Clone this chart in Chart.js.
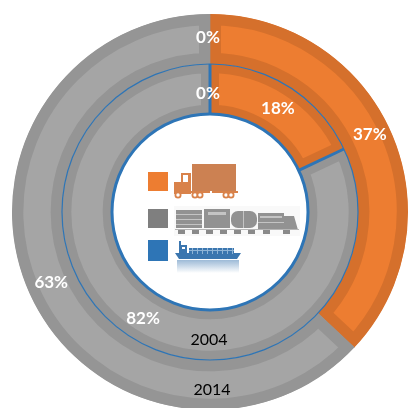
<!DOCTYPE html>
<html>
<head>
<meta charset="utf-8">
<style>
html, body { margin: 0; padding: 0; background: #fff; overflow: hidden; }
#wrap { width: 408px; height: 408px; position: relative; }
</style>
<script src="https://cdn.jsdelivr.net/npm/chart.js@4"></script>
</head>
<body>
<div id="wrap"><canvas id="chart-area" width="408" height="408"></canvas></div>
<script>
var categories = ['Truck', 'Rail', 'Water'];
var years = ['2014', '2004'];
var values2014 = [37, 63, 0];
var values2004 = [18, 82, 0];
var tickLabels2014 = ['37%', '63%', '0%'];
var tickLabels2004 = ['18%', '82%', '0%'];

var fills = ['#ED7D31', '#A5A5A5', '#5B9BD5'];
var edges = ['#D5702C', '#959595', '#5B9BD5'];
var swatches = ['#ED7D31', '#7F7F7F', '#2E75B6'];
var blue = '#2E75B6';
var labelFont = 'bold 17px Lato, "Open Sans", sans-serif';
var yearFont = '16px Lato, "Open Sans", sans-serif';

// hand adjustments to match where the labels sit in the picture [dx, dy]
var nudges = [
    [[1, -9], [0, 2], [-2, -1]],
    [[2, 0], [-1, 3], [-2, 5]]
];

function drawWheel(c, x, y, r, color) {
    c.beginPath();
    c.arc(x, y, r, 0, Math.PI * 2);
    c.fillStyle = color;
    c.fill();
    c.beginPath();
    c.arc(x, y, r / 2, 0, Math.PI * 2);
    c.fillStyle = '#fff';
    c.fill();
}

function drawTruck(c) {
    var body = '#D9824A';
    c.fillStyle = '#CC8152';
    c.fillRect(192, 164, 44, 27);
    c.fillStyle = body;
    c.fillRect(181, 173, 10, 21);
    c.fillRect(174, 182, 8, 12);
    c.fillRect(190, 191, 20, 2);
    c.fillRect(212, 191, 26, 2);
    c.fillStyle = '#fff';
    c.fillRect(183, 175, 5, 7);
    var wheels = [178, 195, 200, 226, 231];
    for (var i = 0; i < wheels.length; i++) {
        drawWheel(c, wheels[i], 195, 3.5, body);
    }
}

function drawTrain(c) {
    var i;
    c.fillStyle = '#F9F9F9';
    c.fillRect(174, 206, 126, 30);
    c.fillStyle = '#929292';
    c.fillRect(176, 210, 26, 18);
    c.fillRect(204, 209, 26, 19);
    c.beginPath();
    c.roundRect(231, 211, 26, 17, 7);
    c.fill();
    c.beginPath();
    c.moveTo(258, 213);
    c.lineTo(284, 213);
    c.lineTo(284, 216);
    c.lineTo(294, 216);
    c.lineTo(298, 230);
    c.lineTo(258, 230);
    c.closePath();
    c.fill();
    c.fillStyle = '#B5B5B5';
    c.fillRect(175, 229, 124, 1);
    c.fillStyle = '#8A8A8A';
    var trucks = [178, 192, 206, 220, 234, 248, 263, 283];
    for (i = 0; i < trucks.length; i++) {
        c.fillRect(trucks[i], 230, 7, 4);
    }
    c.fillStyle = '#C4C4C4';
    c.fillRect(176, 214, 26, 1);
    c.fillRect(176, 219, 26, 1);
    c.fillRect(176, 224, 26, 1);
    c.fillRect(208, 212, 18, 3);
    c.fillRect(243, 211, 1, 17);
    c.fillRect(260, 216, 22, 2);
    c.fillRect(258, 222, 26, 1);
}

function drawShip(c) {
    var shipBlue = '#3B76AF';
    var i;
    c.fillStyle = shipBlue;
    c.beginPath();
    c.moveTo(175, 253);
    c.lineTo(241, 253);
    c.lineTo(237, 259);
    c.lineTo(179, 259);
    c.closePath();
    c.fill();
    c.fillRect(189, 248, 45, 6);
    c.fillRect(179, 245, 8, 8);
    c.fillRect(179, 241, 2, 5);
    c.fillStyle = '#8FB4D6';
    c.fillRect(189, 250, 45, 1);
    for (i = 192; i < 234; i += 5) {
        c.fillRect(i, 248, 1, 6);
    }
    c.fillStyle = '#fff';
    c.fillRect(182, 247, 3, 2);
    var g = c.createLinearGradient(0, 260, 0, 273);
    g.addColorStop(0, 'rgba(59,118,175,0.5)');
    g.addColorStop(1, 'rgba(59,118,175,0)');
    c.fillStyle = g;
    c.fillRect(177, 260, 62, 13);
}

var overlay = {
    id: 'overlay',
    afterDatasetsDraw: function (chart) {
        var c = chart.ctx;
        var outer = chart.getDatasetMeta(0).data;
        var inner = chart.getDatasetMeta(1).data;
        var x = inner[0].x, y = inner[0].y;
        var i, d;

        // blue outline of the inner ring
        c.save();
        c.strokeStyle = blue;
        c.lineWidth = 3;
        c.beginPath();
        c.arc(x, y, inner[0].innerRadius, 0, Math.PI * 2);
        c.stroke();
        for (i = 0; i < 2; i++) {
            var a = inner[i].startAngle;
            c.beginPath();
            c.moveTo(x + Math.cos(a) * inner[i].innerRadius, y + Math.sin(a) * inner[i].innerRadius);
            c.lineTo(x + Math.cos(a) * inner[i].outerRadius, y + Math.sin(a) * inner[i].outerRadius);
            c.stroke();
        }
        c.lineWidth = 1.2;
        c.beginPath();
        c.arc(x, y, inner[0].outerRadius, 0, Math.PI * 2);
        c.stroke();

        // percent labels
        c.font = labelFont;
        c.fillStyle = '#fff';
        c.textAlign = 'center';
        c.textBaseline = 'middle';
        var metas = [outer, inner];
        var texts = [tickLabels2014, tickLabels2004];
        for (d = 0; d < 2; d++) {
            for (i = 0; i < categories.length; i++) {
                var arc = metas[d][i];
                var mid = (arc.startAngle + arc.endAngle) / 2;
                var r = (arc.innerRadius + arc.outerRadius) / 2;
                c.fillText(texts[d][i],
                    x + Math.cos(mid) * r + nudges[d][i][0],
                    y + Math.sin(mid) * r + nudges[d][i][1]);
            }
        }

        // year names at the bottom of each ring
        c.font = yearFont;
        c.fillStyle = '#000';
        c.fillText(years[1], 209, 340);
        c.fillText(years[0], 212, 390);

        // legend swatches and pictures
        var tops = [172, 209, 240];
        var heights = [19, 19, 21];
        for (i = 0; i < categories.length; i++) {
            c.fillStyle = swatches[i];
            c.fillRect(148, tops[i], 20, heights[i]);
        }
        drawTruck(c);
        drawTrain(c);
        drawShip(c);
        c.restore();
    }
};

var config = {
    type: 'doughnut',
    data: {
        labels: categories,
        datasets: [{
            label: years[0],
            data: values2014,
            backgroundColor: fills,
            borderColor: edges,
            borderWidth: 11,
            borderAlign: 'inner',
            borderJoinStyle: 'miter',
            clip: false
        }, {
            label: years[1],
            data: values2004,
            backgroundColor: fills,
            borderColor: edges,
            borderWidth: 9,
            borderAlign: 'inner',
            borderJoinStyle: 'miter',
            clip: false
        }]
    },
    options: {
        responsive: false,
        animation: false,
        radius: 198,
        cutout: '49.5%',
        layout: { padding: { left: 12, top: 16, right: 0, bottom: 0 } },
        plugins: {
            legend: { display: false },
            title: { display: false },
            tooltip: { enabled: false }
        }
    },
    plugins: [overlay]
};

var ctx = document.getElementById('chart-area').getContext('2d');
var myChart = new Chart(ctx, config);
</script>
</body>
</html>
